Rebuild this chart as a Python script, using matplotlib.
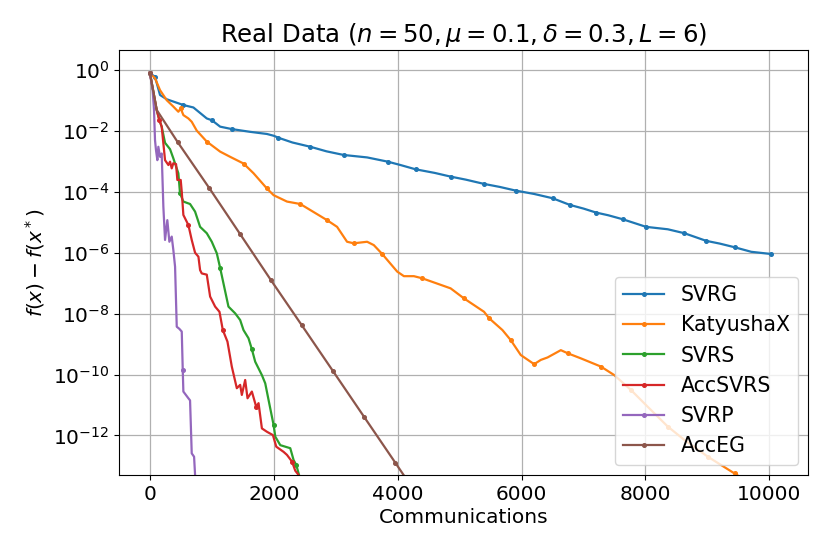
import matplotlib
matplotlib.use('Agg')
import matplotlib.pyplot as plt
import numpy as np

plt.rcParams['font.family'] = ['DejaVu Sans']
plt.rcParams['font.size'] = 14.5
plt.rcParams['mathtext.fontset'] = 'dejavusans'

# communications / log10(f(x) - f(x*))
svrg_x = [0, 81, 162, 270, 540, 701, 917, 1000, 1133, 1323, 1618, 1888, 2000, 2068, 2300,
          2589, 2850, 3128, 3506, 3841, 4045, 4288, 4600, 4854, 5100, 5394, 5650, 5906, 6203,
          6500, 6780, 7000, 7201, 7400, 7632, 8010, 8361, 8630, 8981, 9200, 9439, 9709, 10021]
svrg_lg = [-0.11, -0.22, -0.82, -0.96, -1.15, -1.23, -1.59, -1.65, -1.86, -1.94, -2.03, -2.10,
           -2.16, -2.22, -2.38, -2.52, -2.67, -2.79, -2.87, -3.01, -3.12, -3.26, -3.38, -3.50,
           -3.60, -3.74, -3.84, -3.96, -4.07, -4.21, -4.43, -4.55, -4.68, -4.77, -4.90, -5.15,
           -5.23, -5.36, -5.61, -5.70, -5.82, -5.97, -6.04]
svrg_mk = [0, 81, 540, 1000, 1323, 2068, 2589, 3128, 3841, 4288, 4854, 5394, 5906, 6500,
           6780, 7201, 7632, 8010, 8630, 8981, 9439, 10021]

katx_x = [0, 81, 162, 270, 377, 458, 496, 539, 620, 674, 755, 917, 1133, 1294, 1510, 1672,
          1888, 1996, 2212, 2427, 2859, 3021, 3182, 3290, 3506, 3614, 3749, 3992, 4100, 4261,
          4396, 4854, 5070, 5394, 5475, 5691, 5825, 5987, 6203, 6311, 6419, 6634, 6742, 6958,
          7282, 7497, 7767, 8037, 8361, 8630, 9008, 9439, 9709]
katx_lg = [-0.11, -0.27, -0.66, -0.99, -1.20, -1.37, -1.26, -1.48, -1.59, -1.70, -1.99, -2.35,
           -2.68, -2.85, -3.07, -3.39, -3.89, -4.11, -4.32, -4.40, -4.93, -5.15, -5.64, -5.69,
           -5.64, -5.75, -6.04, -6.62, -6.77, -6.77, -6.84, -7.17, -7.50, -7.94, -8.15, -8.54,
           -8.87, -9.36, -9.66, -9.52, -9.44, -9.20, -9.30, -9.47, -9.74, -10.02, -10.51,
           -11.06, -11.71, -12.15, -12.70, -13.25, -13.60]
katx_mk = [0, 496, 917, 1510, 1888, 2427, 2859, 3290, 3749, 4396, 5070, 5475, 5825, 6203,
           6742, 7282, 7767, 8361, 9008, 9439]

svrs_x = [0, 108, 151, 189, 243, 324, 377, 458, 485, 539, 647, 728, 809, 917, 998, 1079,
          1133, 1267, 1375, 1456, 1510, 1591, 1645, 1699, 1807, 1861, 1915, 1996, 2023, 2104,
          2265, 2319, 2362, 2400, 2450]
svrs_lg = [-0.11, -1.31, -1.64, -1.86, -2.39, -2.60, -2.90, -3.39, -4.05, -4.32, -4.40, -4.65,
           -5.15, -5.36, -5.64, -6.02, -6.50, -7.77, -7.99, -8.21, -8.54, -8.81, -9.17, -9.58,
           -10.02, -10.29, -10.84, -11.66, -12.04, -12.32, -12.42, -12.81, -12.97, -13.25, -13.60]
svrs_mk = [0, 485, 1133, 1645, 1996, 2362]

accsvrs_x = [0, 108, 151, 189, 216, 243, 297, 324, 351, 377, 421, 442, 496, 513, 539, 620,
             674, 728, 782, 809, 836, 917, 971, 1052, 1122, 1176, 1251, 1321, 1402, 1456, 1483,
             1537, 1575, 1645, 1715, 1753, 1807, 1888, 1985, 2039, 2157, 2212, 2293, 2346,
             2400, 2450]
accsvrs_lg = [-0.11, -1.31, -1.64, -1.86, -2.41, -2.96, -3.12, -3.01, -3.23, -3.06, -3.09,
              -3.61, -3.61, -4.00, -4.76, -5.09, -5.58, -6.00, -6.13, -6.57, -6.68, -6.72,
              -7.44, -7.77, -7.94, -8.54, -8.92, -9.74, -10.45, -10.34, -10.67, -10.18, -10.78,
              -10.56, -11.06, -10.94, -11.77, -11.88, -11.99, -12.37, -12.54, -12.64, -12.86,
              -13.16, -13.30, -13.60]
accsvrs_mk = [0, 151, 620, 1176, 1715, 2293]

svrp_x = [0, 43, 65, 81, 97, 119, 135, 162, 189, 216, 243, 280, 313, 351, 377, 405, 432, 474,
          513, 529, 539, 620, 647, 674, 712, 728, 740]
svrp_lg = [-0.11, -0.66, -1.31, -2.30, -2.63, -2.96, -2.52, -2.85, -2.74, -4.49, -5.58, -4.93,
           -5.64, -5.47, -5.91, -6.46, -8.43, -8.50, -8.59, -9.85, -10.56, -10.78, -10.85,
           -12.59, -12.70, -13.30, -13.80]
svrp_mk = [0, 529]

acceg_x = [0, 108, 448, 955, 1456, 1953, 2454, 2956, 3457, 3959, 4460]
acceg_lg = [-0.11, -1.31, -2.37, -3.87, -5.39, -6.90, -8.39, -9.89, -11.39, -12.89, -14.40]
acceg_mk = [0, 448, 955, 1456, 1953, 2454, 2956, 3457, 3959, 4460]

series = [
    ('SVRG', svrg_x, svrg_lg, svrg_mk),
    ('KatyushaX', katx_x, katx_lg, katx_mk),
    ('SVRS', svrs_x, svrs_lg, svrs_mk),
    ('AccSVRS', accsvrs_x, accsvrs_lg, accsvrs_mk),
    ('SVRP', svrp_x, svrp_lg, svrp_mk),
    ('AccEG', acceg_x, acceg_lg, acceg_mk),
]

fig = plt.figure(figsize=(8.3, 5.54), dpi=100)
ax = fig.add_axes([0.1434, 0.1426, 0.8301, 0.7671])

for name, x, lg, mk in series:
    x = np.array(x)
    y = 10.0 ** np.array(lg)
    idx = [int(np.argmin(np.abs(x - m))) for m in mk]  # markers sit on data points
    ax.plot(x, y, '-o', lw=1.6, markersize=2.6, markevery=idx, label=name)

ax.set_yscale('log')
ax.set_xlim(-500, 10625)
ax.set_ylim(10 ** -13.3, 10 ** 0.657)
ax.set_yticks([10.0 ** k for k in range(0, -13, -2)])
ax.minorticks_off()
ax.grid(True, color='#b0b0b0', lw=0.9)
ax.set_xlabel('Communications', labelpad=3)
ax.set_ylabel(r'$f(x)-f(x^*)$')
ax.set_title(r'Real Data ($n=50,\mu=0.1,\delta=0.3,L=6$)', fontsize=17.6)
ax.legend(loc='lower right', fontsize=14.8)

plt.savefig('out.png', dpi=100)
plt.close()
